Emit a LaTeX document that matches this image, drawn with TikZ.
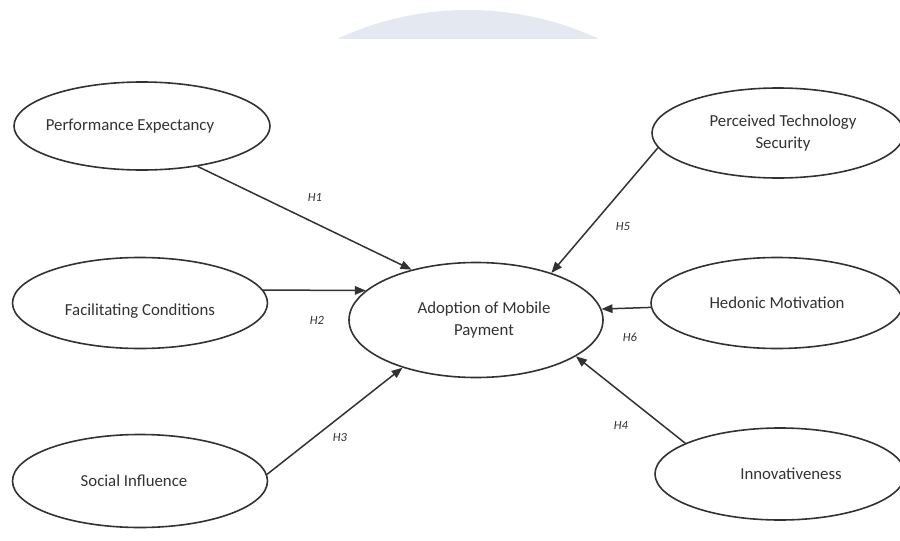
\documentclass[tikz,border=0pt]{standalone}
\usepackage{fontspec}
\setmainfont{Carlito}
\usetikzlibrary{shapes.geometric,arrows.meta}
\definecolor{wmgray}{RGB}{228,232,241}
\definecolor{inkgray}{RGB}{50,50,50}
\tikzset{
  construct/.style={ellipse,draw=inkgray,line width=1.6pt,inner sep=0pt,
    align=center,text=inkgray,font=\fontsize{16.8}{21.5}\selectfont},
  path/.style={draw=inkgray,line width=1.5pt,-{Triangle[length=11pt,width=8.5pt]}},
  hyp/.style={text=inkgray,font=\fontsize{12.5}{14}\selectfont\itshape}
}
\begin{document}
\begin{tikzpicture}[x=1pt,y=-1pt]
      \useasboundingbox (0,0) rectangle (900,541);
      %% watermark
      \begin{scope}
        \clip (0,0) rectangle (900,38);
        \fill[wmgray] (468,319) circle (309);
      \end{scope}
      %% constructs
      \node[construct,minimum width=256pt,minimum height=88pt] (pe) at (142,126) {\hspace*{-24pt}Performance Expectancy};
      \node[construct,minimum width=255pt,minimum height=91pt] (fc) at (140,303) {\raisebox{-8pt}[\height][\depth]{Facilitating Conditions}};
      \node[construct,minimum width=255pt,minimum height=93pt] (si) at (140,481) {\hspace*{-12pt}Social Influence};
      \node[construct,minimum width=254pt,minimum height=115pt] (adopt) at (476,320) {\hspace*{16pt}Adoption of Mobile\\\hspace*{16pt}Payment};
      \node[construct,minimum width=252pt,minimum height=90pt] (pts) at (778,133) {\hspace*{10pt}Perceived Technology\\\hspace*{10pt}Security};
      \node[construct,minimum width=252pt,minimum height=91pt] (hm) at (777,303) {Hedonic Motivation};
      \node[construct,minimum width=250pt,minimum height=92pt] (inn) at (780,474) {\hspace*{22pt}Innovativeness};
      %% left paths
      \draw[path] (pe.-36) -- (adopt.142);
      \draw[path] (fc.6) -- (adopt.165);
      \draw[path] (si.3) -- (adopt.213);
      %% right paths
      \draw[path] (pts.187) -- (adopt.32);
      \draw[path] (hm.182) -- (adopt.5);
      \draw[path] (inn.162) -- (adopt.-20);
      %% hypotheses
      \node[hyp] (h1) at (315,197) {H1};
      \node[hyp] (h2) at (317,320) {H2};
      \node[hyp] (h3) at (340,437) {H3};
      \node[hyp] (h5) at (623,227) {H5};
      \node[hyp] (h6) at (630,337) {H6};
      \node[hyp] (h4) at (621,425) {H4};
    \end{tikzpicture}
\end{document}
